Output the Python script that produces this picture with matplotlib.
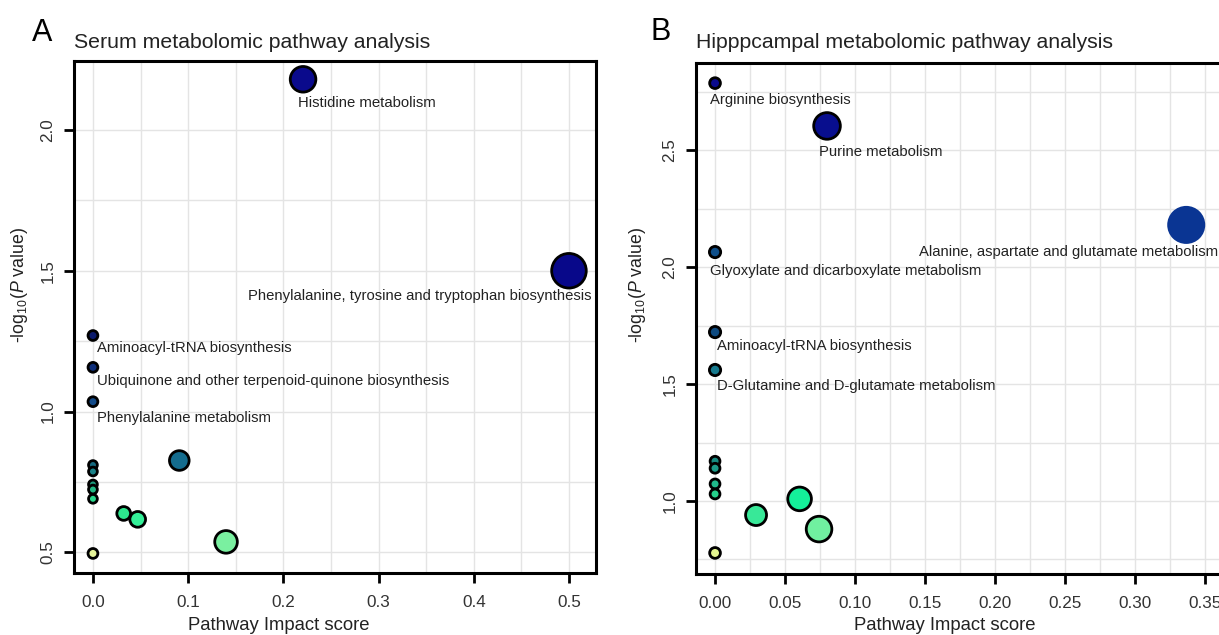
import matplotlib
matplotlib.use("Agg")
import matplotlib.pyplot as plt
from matplotlib.ticker import MultipleLocator, FormatStrFormatter

plt.rcParams['font.family'] = ['Liberation Sans', 'DejaVu Sans']
plt.rcParams['mathtext.fontset'] = 'custom'
plt.rcParams['mathtext.rm'] = 'Liberation Sans'
plt.rcParams['mathtext.it'] = 'Liberation Sans:italic'

# ---- panel A: serum ----
a_impact = [0.2207, 0.5, 0.0, 0.0, 0.0, 0.0907,
            0.0, 0.0, 0.0, 0.0, 0.0, 0.0323, 0.047, 0.1398, 0.0]
a_logp = [2.18, 1.50, 1.27, 1.157, 1.035, 0.826,
          0.81, 0.787, 0.741, 0.723, 0.69, 0.638, 0.617, 0.537, 0.496]
a_size = [340, 620, 50, 50, 50, 200, 40, 40, 40, 40, 40, 98, 128, 265, 50]
a_color = ['#0a0a8c', '#08088a', '#0b1a6c', '#0e2e7a', '#124a88', '#146c8e',
           '#166a80', '#1a8288', '#1c9a7c', '#22b884', '#28d88c',
           '#2de88e', '#34ef98', '#7af0a0', '#e6f59a']
a_names = ['Histidine metabolism',
           'Phenylalanine, tyrosine and tryptophan biosynthesis',
           'Aminoacyl-tRNA biosynthesis',
           'Ubiquinone and other terpenoid-quinone biosynthesis',
           'Phenylalanine metabolism']

# ---- panel B: hippocampus ----
b_impact = [0.0, 0.08, 0.3366, 0.0, 0.0, 0.0,
            0.0, 0.0, 0.0, 0.0, 0.0293, 0.0604, 0.0743, 0.0]
b_logp = [2.786, 2.603, 2.18, 2.064, 1.722, 1.56,
          1.17, 1.14, 1.073, 1.03, 0.94, 1.009, 0.88, 0.778]
b_size = [60, 368, 749, 66, 66, 66, 50, 50, 50, 50, 228, 290, 340, 60]
b_color = ['#0a0a8c', '#080e8e', '#0a3593', '#0f4f8a', '#0e4a80', '#167a8e',
           '#168a80', '#1b9a88', '#20b88a', '#26d08c',
           '#38e898', '#14f09a', '#70f0a0', '#e4f590']
b_edge = ['black'] * 2 + ['none'] + ['black'] * 11
b_names = ['Arginine biosynthesis', 'Purine metabolism',
           'Alanine, aspartate and glutamate metabolism',
           'Glyoxylate and dicarboxylate metabolism',
           'Aminoacyl-tRNA biosynthesis',
           'D-Glutamine and D-glutamate metabolism']

# label placement (offset in points from the point, alignment)
a_lab = [(-3.5, -17, 'left'), (16.5, -18, 'right'), (3, -9, 'left'),
         (3, -10, 'left'), (3, -11.5, 'left')]
b_lab = [(-3.5, -12, 'left'), (-6, -19, 'left'), (23, -19.5, 'right'),
         (-3.5, -13.5, 'left'), (1.5, -10, 'left'), (1.5, -11.5, 'left')]

W, H = 1219, 635
fig = plt.figure(figsize=(W / 100, H / 100), dpi=100)
axA = fig.add_axes([74 / W, 1 - 573 / H, 522 / W, 512 / H])
axB = fig.add_axes([696 / W, 1 - 574 / H, 529 / W, 511 / H])


def style_axes(ax, xlim, ylim, xmaj, xmin, yticks, xfmt):
    ax.set_xlim(xlim)
    ax.set_ylim(ylim)
    ax.xaxis.set_major_locator(MultipleLocator(xmaj))
    ax.xaxis.set_minor_locator(MultipleLocator(xmin))
    ax.xaxis.set_major_formatter(FormatStrFormatter(xfmt))
    ax.set_yticks(yticks)
    ax.yaxis.set_minor_locator(MultipleLocator(0.25))
    ax.yaxis.set_major_formatter(FormatStrFormatter('%.1f'))
    ax.grid(True, which='both', color='#e4e4e4', lw=1.0, zorder=0)
    ax.set_axisbelow(True)
    for s in ax.spines.values():
        s.set_linewidth(2.2)
    ax.tick_params(which='major', length=7.5, width=2, labelsize=12.3,
                   labelcolor='#333333')
    ax.tick_params(axis='x', pad=8)
    ax.tick_params(axis='y', pad=6)
    ax.tick_params(which='minor', length=0)
    for lab in ax.get_yticklabels():
        lab.set_rotation(90)
        lab.set_va('center')


def draw(ax, xs, ys, sizes, colors, edges, names, labs):
    ax.scatter(xs, ys, s=sizes, c=colors, edgecolors=edges, linewidths=2.0,
               zorder=3)
    for i, name in enumerate(names):
        dx, dy, ha = labs[i]
        ax.annotate(name, (xs[i], ys[i]), xytext=(dx, dy),
                    textcoords='offset points', ha=ha, va='center',
                    fontsize=10.7, color='#222222', zorder=4)


style_axes(axA, (-0.0199, 0.5284), (0.4265, 2.245), 0.1, 0.05,
           [0.5, 1.0, 1.5, 2.0], '%.1f')
draw(axA, a_impact, a_logp, a_size, a_color, 'black', a_names, a_lab)

style_axes(axB, (-0.0136, 0.3643), (0.688, 2.872), 0.05, 0.025,
           [1.0, 1.5, 2.0, 2.5], '%.2f')
draw(axB, b_impact, b_logp, b_size, b_color, b_edge, b_names, b_lab)

for xc in (278.6, 945.0):
    fig.text(xc / W, 1 - 625 / H, 'Pathway Impact score', ha='center',
             va='center', fontsize=13.3, color='#222222')

ylab = r'-log$_{10}$($\mathit{P}$ value)'
fig.text(20 / W, 1 - 285 / H, ylab, rotation=90, ha='center', va='center',
         fontsize=12.8, color='#222222')
fig.text(637 / W, 1 - 285 / H, ylab, rotation=90, ha='center', va='center',
         fontsize=12.8, color='#222222')

fig.text(32 / W, 1 - 33 / H, 'A', fontsize=22, ha='left', va='center')
fig.text(74 / W, 1 - 43 / H, 'Serum metabolomic pathway analysis',
         fontsize=15.3, ha='left', va='center', color='#222222')
fig.text(650 / W, 1 - 32 / H, 'B', fontsize=22, ha='left', va='center')
fig.text(696 / W, 1 - 43 / H, 'Hipppcampal metabolomic pathway analysis',
         fontsize=15.3, ha='left', va='center', color='#222222')

fig.savefig('out.png', dpi=100)
